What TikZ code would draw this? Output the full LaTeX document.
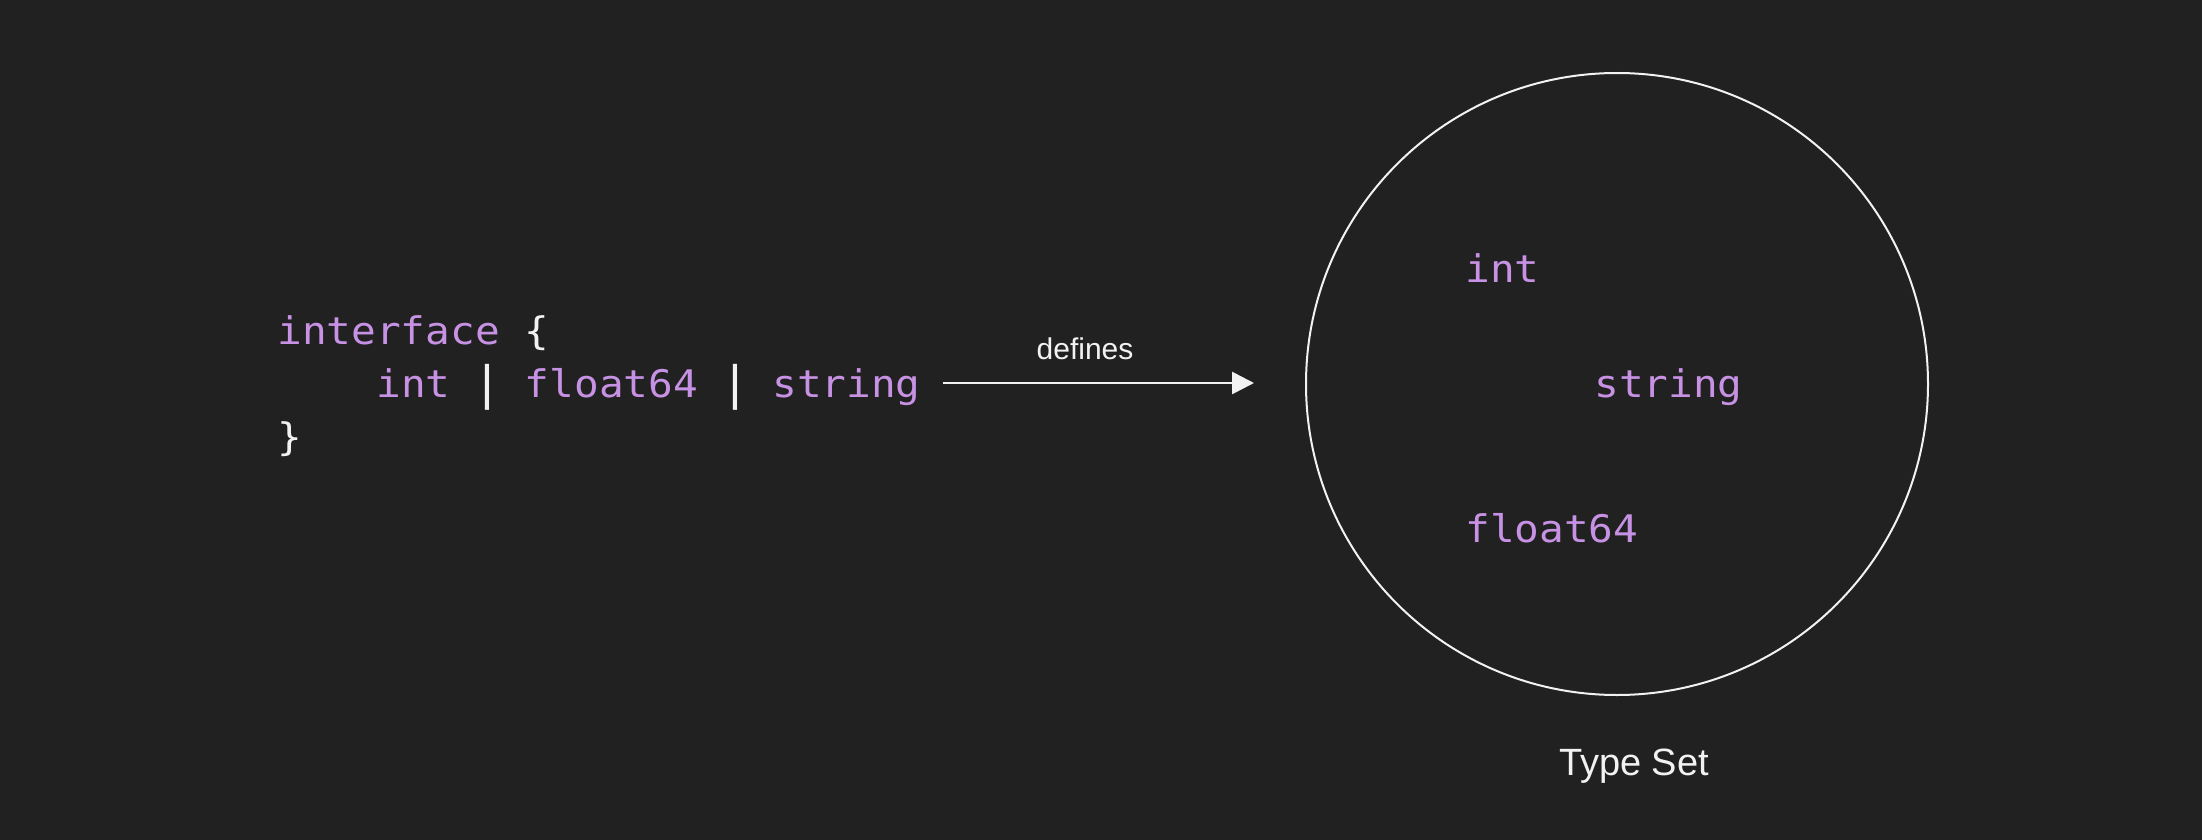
\documentclass[tikz,border=0pt]{standalone}
\usepackage{fontspec}
\setmainfont{Liberation Sans}
\newfontfamily\codefont[FakeStretch=1.08]{DejaVu Sans Mono}
\usetikzlibrary{arrows.meta}
\definecolor{bg}{HTML}{212121}
\definecolor{kw}{HTML}{C792E4}
\definecolor{fg}{HTML}{F2F2F2}
\tikzset{
  code/.style={anchor=base west, inner sep=0pt, font=\codefont\fontsize{19pt}{19pt}\selectfont, text=kw},
  punct/.style={code, text=fg},
  barsym/.style={anchor=base west, inner sep=0pt, font=\codefont\fontsize{23pt}{23pt}\selectfont, text=fg},
  label/.style={anchor=base, inner sep=0pt, text=fg},
  setring/.style={circle, draw=fg, line width=1pt, minimum size=311pt, inner sep=0pt},
  arr/.style={draw=fg, line width=1.35pt, -{Triangle[length=11pt,width=11pt]}}
}
\begin{document}
\begin{tikzpicture}[x=0.5pt,y=-0.5pt]
\fill[bg] (0,0) rectangle (2202,840);
\useasboundingbox (0,0) rectangle (2202,840);
% code block: column width 24.75, col0 at 277
\node[code]   (kwiface) at (277,344) {interface};
\node[punct]  (lbrace)  at (524.5,344) {\{};
\node[code]   (cint)    at (376,397) {int};
\node[barsym] (bar1)    at (472.5,399) {|};
\node[code]   (cfloat)  at (524.5,397) {float64};
\node[barsym] (bar2)    at (720,399) {|};
\node[code]   (cstring) at (772,397) {string};
\node[punct]  (rbrace)  at (277,450) {\}};
% arrow
\coordinate (a0) at (943,383);
\coordinate (a1) at (1254,383);
\draw[arr] (a0) -- (a1);
\node[label, font=\fontsize{15pt}{15pt}\selectfont] (defines) at (1085,359) {defines};
% type set
\node[setring] (typeset) at (1617,384) {};
\node[code] (sint)    at (1465,282) {int};
\node[code] (sstring) at (1594,397) {string};
\node[code] (sfloat)  at (1465,542) {float64};
\node[label, font=\fontsize{19pt}{19pt}\selectfont] (tslabel) at (1634,775) {Type Set};
\end{tikzpicture}
\end{document}
